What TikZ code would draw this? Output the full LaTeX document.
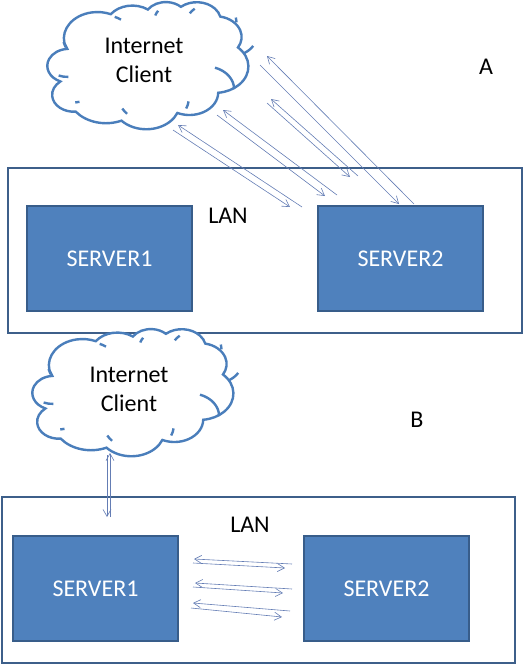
\documentclass[tikz,border=0pt]{standalone}
\usepackage{fontspec}
\setmainfont{Carlito}
\usetikzlibrary{arrows.meta}
\definecolor{lanblue}{RGB}{61,95,138}
\definecolor{srvfill}{RGB}{79,129,189}
\definecolor{srvline}{RGB}{56,93,138}
\definecolor{cloudblue}{RGB}{74,126,187}
\definecolor{linkblue}{RGB}{100,125,180}
% cloud outline, drawn in a 43.2 x 43.2 box from its top left corner
\newcommand{\pptcloud}[1]{%
  \begin{scope}[shift={#1}, x=4.98pt, y=-2.86pt]
    \draw[cloudline, fill=white] (3.9,14.37)
      arc[x radius=6.753, y radius=9.19,  start angle=-190.487, delta angle=123.781]
      arc[x radius=5.333, y radius=7.267, start angle=-144.102, delta angle=89.945]
      arc[x radius=4.365, y radius=5.945, start angle=-145.808, delta angle=99.723]
      arc[x radius=4.857, y radius=6.595, start angle=-130.986, delta angle=117.242]
      arc[x radius=5.333, y radius=7.273, start angle=-78.709,  delta angle=109.027]
      arc[x radius=6.775, y radius=9.22,  start angle=-46.281,  delta angle=130.269]
      arc[x radius=5.785, y radius=7.867, start angle=0.625,    delta angle=114.033]
      arc[x radius=6.752, y radius=9.215, start angle=22.452,   delta angle=115.173]
      arc[x radius=7.72,  y radius=10.543,start angle=66.243,   delta angle=75.711]
      arc[x radius=4.36,  y radius=5.918, start angle=-274.942, delta angle=146.736]
      arc[x radius=4.345, y radius=5.945, start angle=-246.829, delta angle=152.519]
      -- cycle;
    \draw[cloudline]
      (4.693,26.177)  arc[x radius=4.345, y radius=5.945, start angle=86.742,   delta angle=26.430]
      (6.928,34.899)  arc[x radius=4.36,  y radius=5.918, start angle=73.610,   delta angle=11.447]
      (16.478,39.09)  arc[x radius=6.752, y radius=9.215, start angle=137.624,  delta angle=14.081]
      (28.827,34.751) arc[x radius=6.752, y radius=9.215, start angle=6.453,    delta angle=15.998]
      (34.129,22.954) arc[x radius=5.785, y radius=7.867, start angle=-70.292,  delta angle=70.917]
      (41.798,15.354) arc[x radius=5.333, y radius=7.273, start angle=30.318,   delta angle=27.752]
      (38.324,5.426)  arc[x radius=4.857, y radius=6.595, start angle=-13.744,  delta angle=14.859]
      (29.078,3.952)  arc[x radius=4.857, y radius=6.595, start angle=-149.181, delta angle=18.195]
      (22.141,4.72)   arc[x radius=4.365, y radius=5.945, start angle=-163.494, delta angle=17.686]
      (14.0,5.192)    arc[x radius=6.753, y radius=9.19,  start angle=-66.707,  delta angle=12.319]
      (4.127,15.789)  arc[x radius=6.753, y radius=9.19,  start angle=157.654,  delta angle=11.858];
  \end{scope}}

\begin{document}
\begin{tikzpicture}[x=1pt, y=-1pt,
    cloudline/.style={cloudblue, line width=2.4pt},
    lanbox/.style={lanblue, line width=2.3pt},
    server/.style={draw=srvline, fill=srvfill, line width=1.5pt, minimum width=165pt,
      minimum height=105pt, inner sep=0pt, text=white, font=\fontsize{24}{29}\selectfont},
    plaintext/.style={align=center, inner sep=0pt, font=\fontsize{24}{29}\selectfont},
    link/.style={linkblue, line width=0.6pt, -{Straight Barb[length=7pt,width=8pt]}}]
  \useasboundingbox (0,0) rectangle (524,665);

  % A
  \pptcloud{(45,2)}
  \node[plaintext] (clientA) at (144,60) {Internet\\Client};
  \node[plaintext] (markA) at (486,67) {A};
  \draw[lanbox] (8,168) rectangle (522,333);
  \node[plaintext] (lanA) at (228,216) {LAN};
  \node[server] (srvA1) at (109.5,258.5) {SERVER1};
  \node[server] (srvA2) at (400.5,258.5) {SERVER2};

  \coordinate (a1) at (302,207); \coordinate (a2) at (178,125);
  \coordinate (a3) at (173,130); \coordinate (a4) at (290,207);
  \coordinate (a5) at (337,195); \coordinate (a6) at (223,110);
  \coordinate (a7) at (217,115); \coordinate (a8) at (325,196);
  \coordinate (a9) at (358,176); \coordinate (a10) at (271,99);
  \coordinate (a11) at (267,103); \coordinate (a12) at (350,177);
  \coordinate (a13) at (414,204); \coordinate (a14) at (267,56);
  \coordinate (a15) at (260,65); \coordinate (a16) at (399,204);
  \draw[link] (a1) -- (a2);
  \draw[link] (a3) -- (a4);
  \draw[link] (a5) -- (a6);
  \draw[link] (a7) -- (a8);
  \draw[link] (a9) -- (a10);
  \draw[link] (a11) -- (a12);
  \draw[link] (a13) -- (a14);
  \draw[link] (a15) -- (a16);

  % B
  \pptcloud{(30,329)}
  \node[plaintext] (clientB) at (129,389) {Internet\\Client};
  \node[plaintext] (markB) at (417,420) {B};
  \draw[lanbox] (2,497) rectangle (515,663);
  \node[plaintext] (lanB) at (250,525) {LAN};
  \node[server] (srvB1) at (95.5,588.5) {SERVER1};
  \node[server] (srvB2) at (386.5,588.5) {SERVER2};

  \coordinate (b1) at (110,517); \coordinate (b2) at (110,453);
  \coordinate (b3) at (107,455); \coordinate (b4) at (107,517);
  \coordinate (b5) at (292,564); \coordinate (b6) at (194,559);
  \coordinate (b7) at (193,563); \coordinate (b8) at (285,568);
  \coordinate (b9) at (292,589); \coordinate (b10) at (195,583);
  \coordinate (b11) at (193,587); \coordinate (b12) at (283,593);
  \coordinate (b13) at (290,611); \coordinate (b14) at (193,603);
  \coordinate (b15) at (191,608); \coordinate (b16) at (282,617);
  \draw[link] (b1) -- (b2);
  \draw[link] (b3) -- (b4);
  \draw[link] (b5) -- (b6);
  \draw[link] (b7) -- (b8);
  \draw[link] (b9) -- (b10);
  \draw[link] (b11) -- (b12);
  \draw[link] (b13) -- (b14);
  \draw[link] (b15) -- (b16);
\end{tikzpicture}
\end{document}
